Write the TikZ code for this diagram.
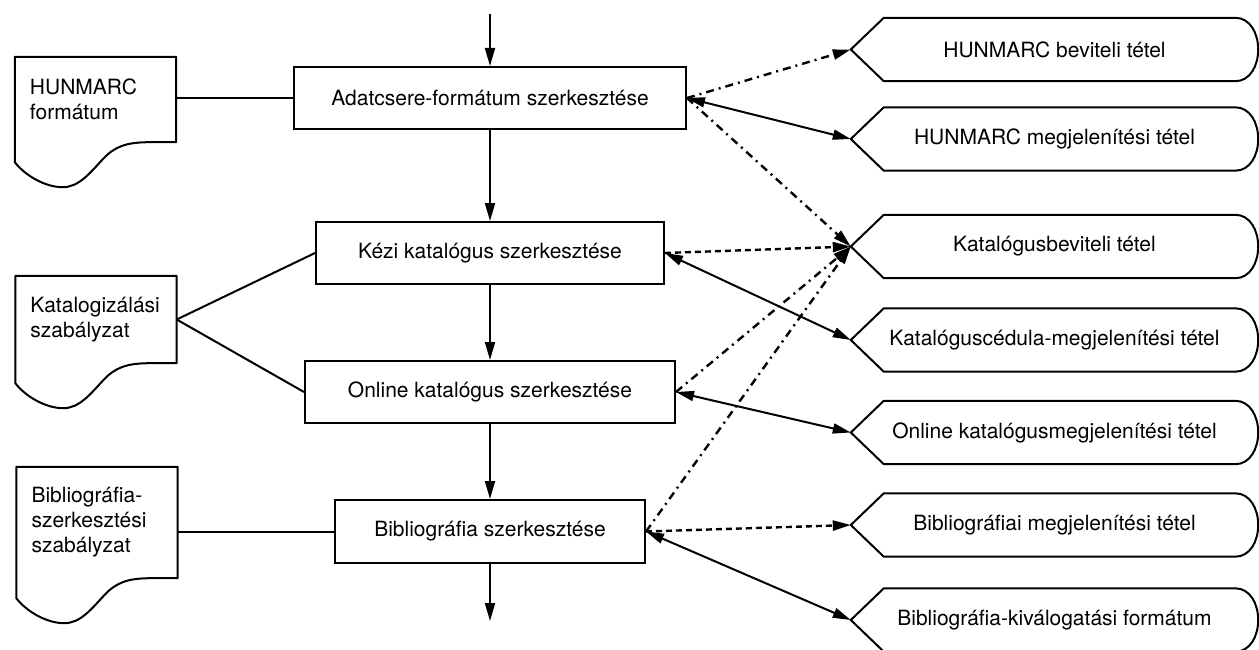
\documentclass[tikz,border=0pt]{standalone}
\usepackage{fontspec}
\setmainfont{TeX Gyre Heros}
\usetikzlibrary{arrows.meta,calc}
\newcommand{\docoutline}[1]{%
  \draw[shapeline] (#1.south east) -- (#1.north east) -- (#1.north west) -- ($(#1.south west)+(0,20)$)
    .. controls ($(#1.south west)+(10,33)$) and ($(#1.south west)+(30,45)$) .. ($(#1.south west)+(48,45)$)
    .. controls ($(#1.south west)+(64,45)$) and ($(#1.south west)+(75,31)$) .. ($(#1.south west)+(88,17)$)
    .. controls ($(#1.south west)+(100,4)$) and ($(#1.south west)+(112,0)$) .. ($(#1.south west)+(135,0)$)
    -- cycle;}
\newcommand{\outoutline}[1]{%
  \draw[shapeline] (#1.west) -- ($(#1.north west)+(33,0)$) -- ($(#1.north east)+(-23,0)$)
    .. controls ($(#1.north east)+(-8,0)$) and ($(#1.east)+(0,-16)$) .. (#1.east)
    .. controls ($(#1.east)+(0,16)$) and ($(#1.south east)+(-8,0)$) .. ($(#1.south east)+(-23,0)$)
    -- ($(#1.south west)+(33,0)$) -- cycle;}
\begin{document}
\begin{tikzpicture}[x=1pt,y=-1pt,
  every node/.style={font=\fontsize{21}{25}\selectfont},
  procbox/.style={draw,line width=2pt,minimum height=62pt,inner sep=0pt},
  docnode/.style={minimum width=161pt,text width=131pt,inner xsep=15pt,inner ysep=0pt,align=left},
  outnode/.style={minimum width=407pt,minimum height=63pt,inner sep=0pt},
  shapeline/.style={line width=2pt,line join=round},
  conn/.style={line width=2pt},
  >={Triangle[length=18pt,width=10pt]},
  dashdot/.style={line width=2.4pt,dash pattern=on 8pt off 5pt on 2pt off 5pt},
  dashedline/.style={line width=2.4pt,dash pattern=on 6pt off 4pt},
]
\useasboundingbox (0,0) rectangle (1259,650);

% left documents
\node[docnode,minimum height=85pt] (d1) at (95.5,99.5) {HUNMARC\\formátum};
\node[docnode,minimum height=87pt] (d2) at (96,319.5) {Katalogizálási\\szabályzat};
\node[docnode,minimum height=111pt] (d3) at (97,522.5) {Bibliográfia-\\szerkesztési\\szabályzat};
\docoutline{d1}
\docoutline{d2}
\docoutline{d3}

% process boxes
\node[procbox,minimum width=392pt] (A) at (490,98) {Adatcsere-formátum szerkesztése};
\node[procbox,minimum width=348pt] (K) at (490,253) {Kézi katalógus szerkesztése};
\node[procbox,minimum width=370pt] (O) at (490,392) {Online katalógus szerkesztése};
\node[procbox,minimum width=310pt,minimum height=63pt] (B) at (490,531.5) {Bibliográfia szerkesztése};

% output items
\node[outnode] (o1) at (1054.5,49.5) {HUNMARC beviteli tétel};
\node[outnode] (o2) at (1054.5,139) {HUNMARC megjelenítési tétel};
\node[outnode] (o3) at (1054.5,246.5) {Katalógusbeviteli tétel};
\node[outnode] (o4) at (1054.5,340) {Katalóguscédula-megjelenítési tétel};
\node[outnode] (o5) at (1054.5,432.5) {Online katalógusmegjelenítési tétel};
\node[outnode] (o6) at (1054.5,525) {Bibliográfiai megjelenítési tétel};
\node[outnode] (o7) at (1054.5,620) {Bibliográfia-kiválogatási formátum};
\foreach \n in {o1,o2,o3,o4,o5,o6,o7} {\outoutline{\n}}

\coordinate (top) at (490,14);
\coordinate (bottom) at (490,621);

% vertical flow
\draw[conn,->] (top) -- (A.north);
\draw[conn,->] (A.south) -- (A.south |- K.north);
\draw[conn,->] (K.south) -- (K.south |- O.north);
\draw[conn,->] (O.south) -- (O.south |- B.north);
\draw[conn,->] (B.south) -- (bottom);

% left connections
\draw[conn] (A.west -| d1.east) -- (A.west);
\draw[conn] (d2.east) -- (K.west);
\draw[conn] (d2.east) -- (O.west);
\draw[conn] (B.west -| d3.east) -- (B.west);

% right connections
\draw[dashdot,->] (A.east) -- (o1.west);
\draw[conn,<->] (A.east) -- (o2.west);
\draw[dashdot,->] (A.east) -- (o3.west);
\draw[dashedline,->] (K.east) -- (o3.west);
\draw[conn,<->] (K.east) -- (o4.west);
\draw[dashdot,->] (O.east) -- (o3.west);
\draw[conn,<->] (O.east) -- (o5.west);
\draw[dashdot,->] (B.east) -- (o3.west);
\draw[dashedline,->] (B.east) -- (o6.west);
\draw[conn,<->] (B.east) -- (o7.west);
\end{tikzpicture}
\end{document}
